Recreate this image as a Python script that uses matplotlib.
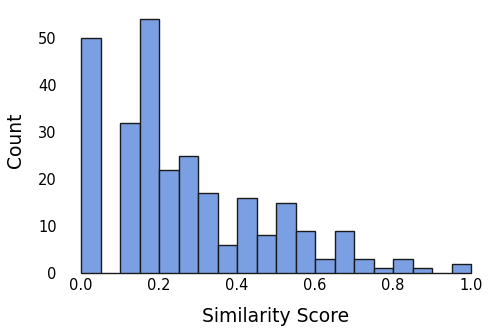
import numpy as np
import matplotlib
matplotlib.use('Agg')
import matplotlib.pyplot as plt

# histogram of similarity scores, 20 bins over [0, 1]
bin_edges = np.linspace(0.0, 1.0, 21)
counts = [50, 0, 32, 54, 22, 25, 17, 6, 16, 8, 15, 9, 3, 9, 3, 1, 3, 1, 0, 2]
x_ticks = [0.0, 0.2, 0.4, 0.6, 0.8, 1.0]
y_ticks = [0, 10, 20, 30, 40, 50]

centers = (bin_edges[:-1] + bin_edges[1:]) / 2

fig = plt.figure(figsize=(4.98, 3.31), dpi=100)
ax = fig.add_axes([0.1235, 0.175, 0.8615, 0.805])

_, _, patches = ax.hist(centers, bins=bin_edges, weights=counts,
                        color='#7b9fe3', edgecolor='#1a1a1a', linewidth=1.0)
for p in patches:
    p.set_clip_on(False)

ax.set_xticks(x_ticks)
ax.set_yticks(y_ticks)
ax.tick_params(length=0, labelsize=10.5, pad=3.5)
for s in ax.spines.values():
    s.set_visible(False)

ax.set_xlabel('Similarity Score', fontsize=13.5, labelpad=10)
ax.set_ylabel('Count', fontsize=13.5, labelpad=9)

fig.savefig('out.png', dpi=100)
